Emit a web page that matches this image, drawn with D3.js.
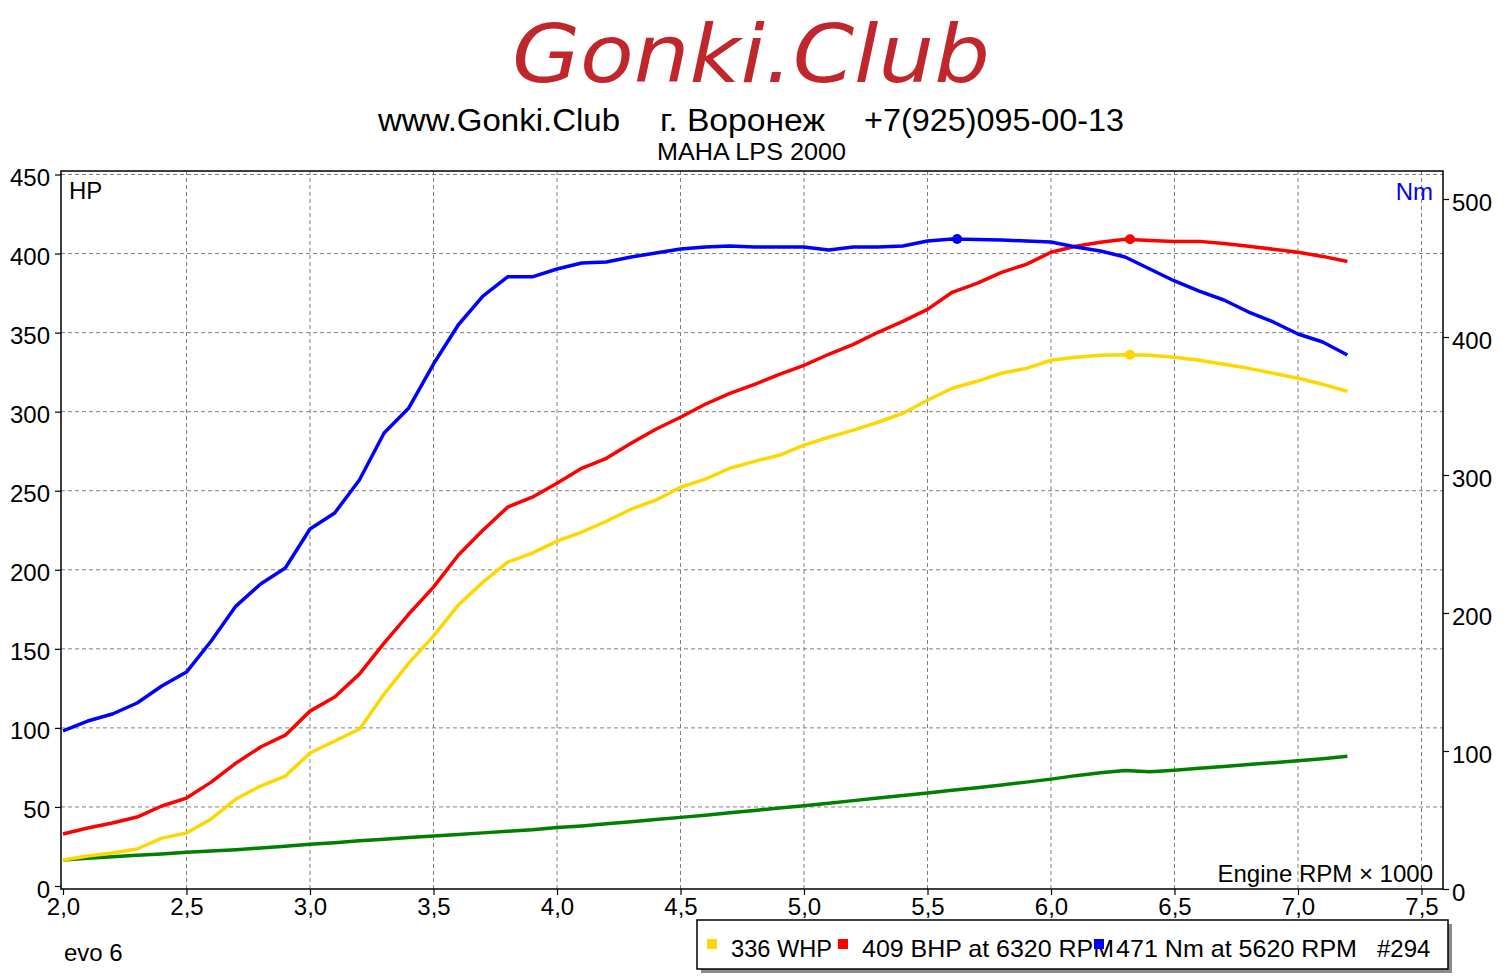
<!DOCTYPE html>
<html lang="ru">
<head>
  <meta charset="UTF-8">
  <title>Gonki.Club - evo 6 dyno</title>
  <script src="https://d3js.org/d3.v7.min.js"></script>
  <style>
    body { margin: 0; background: #fff; }
    svg text { font-family: "Liberation Sans", Arial, sans-serif; }
    .grid line { stroke: #808080; stroke-width: 1; stroke-dasharray: 4,3; }
  </style>
</head>
<body>
<div id="chart"></div>
<script>
// RPM x 1000, one reading per 100 rpm
const rpm = [2.0, 2.1, 2.2, 2.3, 2.4, 2.5, 2.6, 2.7, 2.8, 2.9,
             3.0, 3.1, 3.2, 3.3, 3.4, 3.5, 3.6, 3.7, 3.8, 3.9,
             4.0, 4.1, 4.2, 4.3, 4.4, 4.5, 4.6, 4.7, 4.8, 4.9,
             5.0, 5.1, 5.2, 5.3, 5.4, 5.5, 5.6, 5.7, 5.8, 5.9,
             6.0, 6.1, 6.2, 6.3, 6.4, 6.5, 6.6, 6.7, 6.8, 6.9,
             7.0, 7.1, 7.2];

// wheel hp (yellow)
const whp = [16.4, 19.0, 20.9, 23.4, 30.3, 33.5, 42.4, 55.0, 63.2, 69.5,
             84.1, 91.7, 99.2, 121.4, 141.0, 158.0, 177.6, 192.2, 204.8, 210.5,
             218.1, 223.8, 230.7, 238.3, 244.0, 252.2, 257.3, 264.2, 268.6, 272.4,
             278.8, 283.8, 288.3, 293.3, 299.0, 307.2, 314.8, 319.2, 324.3, 327.4,
             332.5, 334.4, 335.7, 336.0, 335.7, 334.4, 332.5, 330.0, 327.4, 324.3,
             321.1, 317.3, 312.9];

// engine hp (red)
const bhp = [32.9, 36.7, 39.8, 43.6, 50.6, 55.6, 65.7, 77.7, 87.9, 95.4,
             110.6, 119.5, 134.0, 153.6, 172.0, 189.0, 209.2, 225.0, 239.6, 245.9,
             254.7, 264.2, 270.5, 280.0, 288.9, 296.5, 304.7, 311.6, 317.3, 323.6,
             329.3, 336.3, 342.6, 350.2, 357.1, 364.7, 375.5, 381.2, 388.1, 393.2,
             400.8, 404.6, 407.1, 409.0, 408.3, 407.7, 407.7, 406.4, 404.6, 402.7,
             400.8, 398.2, 395.0];

// losses (green)
const loss = [16.5, 17.5, 18.5, 19.5, 20.3, 21.3, 22.2, 23.0, 24.0, 25.2,
              26.4, 27.4, 28.6, 29.6, 30.6, 31.6, 32.6, 33.6, 34.6, 35.6,
              37.0, 38.0, 39.3, 40.6, 42.0, 43.4, 44.8, 46.3, 47.8, 49.3,
              50.8, 52.4, 54.0, 55.6, 57.2, 58.8, 60.5, 62.2, 63.9, 65.7,
              67.6, 69.8, 71.6, 73.0, 72.2, 73.2, 74.4, 75.6, 76.8, 78.0,
              79.2, 80.5, 82.0];

// torque Nm (blue, right axis)
const torque = [114.5, 121.7, 126.8, 134.8, 147.1, 157.2, 179.7, 205.0, 221.0, 232.6,
                260.9, 272.5, 296.4, 330.4, 348.6, 380.4, 408.7, 429.7, 443.6, 443.6,
                449.3, 453.6, 454.3, 458.0, 460.9, 463.8, 465.2, 465.9, 465.2, 465.2,
                465.2, 463.0, 465.2, 465.2, 465.9, 469.6, 471.0, 470.6, 470.3, 469.6,
                468.8, 465.2, 462.3, 458.0, 449.3, 440.6, 433.3, 426.8, 418.1, 410.9,
                402.2, 396.4, 387.0];

// peak markers
const peaks = [
  { rpm: 5.62, value: 471, axis: "nm", color: "#0000ff" },
  { rpm: 6.32, value: 409, axis: "hp", color: "#ff0000" },
  { rpm: 6.32, value: 336, axis: "hp", color: "#ffd700" }
];

const hpTicks = [0, 50, 100, 150, 200, 250, 300, 350, 400, 450];
const nmTicks = [0, 100, 200, 300, 400, 500];
const rpmTicks = [2.0, 2.5, 3.0, 3.5, 4.0, 4.5, 5.0, 5.5, 6.0, 6.5, 7.0, 7.5];

const legendItems = [
  { color: "#ffd700", text: "336 WHP" },
  { color: "#ff0000", text: "409 BHP at 6320 RPM" },
  { color: "#0000ff", text: "471 Nm at 5620 RPM" }
];

const W = 1503, H = 979;
const frame = { left: 61, top: 171, right: 1443, bottom: 889 };

const svg = d3.select("#chart").append("svg")
  .attr("width", W)
  .attr("height", H);

// scales
const x = d3.scaleLinear().domain([2.0, 7.5]).range([63, 1421.5]);
const yHp = d3.scaleLinear().domain([0, 450]).range([886, 174.5]);
const yNm = d3.scaleLinear().domain([0, 500]).range([889, 199]);

// logo + header
svg.append("text")
  .attr("x", 512).attr("y", 82)
  .attr("textLength", 478)
  .attr("lengthAdjust", "spacingAndGlyphs")
  .style("font-family", "'DejaVu Sans', sans-serif")
  .style("font-style", "italic")
  .style("font-size", "80px")
  .attr("fill", "#c0272d")
  .text("Gonki.Club");

const header = [
  { x: 378, w: 242, t: "www.Gonki.Club" },
  { x: 660, w: 165, t: "г. Воронеж" },
  { x: 864, w: 260, t: "+7(925)095-00-13" }
];
svg.selectAll(".hdr").data(header).enter().append("text")
  .attr("class", "hdr")
  .attr("x", d => d.x).attr("y", 131)
  .attr("textLength", d => d.w)
  .attr("lengthAdjust", "spacingAndGlyphs")
  .style("font-size", "31px")
  .attr("fill", "#000")
  .text(d => d.t);

svg.append("text")
  .attr("x", 657).attr("y", 160)
  .attr("textLength", 189)
  .attr("lengthAdjust", "spacingAndGlyphs")
  .style("font-size", "23px")
  .text("MAHA LPS 2000");

// grid
const grid = svg.append("g").attr("class", "grid");
grid.selectAll(".gx").data(rpmTicks.slice(1)).enter().append("line")
  .attr("x1", d => x(d)).attr("x2", d => x(d))
  .attr("y1", frame.top).attr("y2", frame.bottom);
grid.selectAll(".gy").data(hpTicks.slice(1)).enter().append("line")
  .attr("x1", frame.left).attr("x2", frame.right)
  .attr("y1", d => yHp(d)).attr("y2", d => yHp(d));

// frame
svg.append("rect")
  .attr("x", frame.left).attr("y", frame.top)
  .attr("width", frame.right - frame.left)
  .attr("height", frame.bottom - frame.top)
  .attr("fill", "none")
  .attr("stroke", "#000")
  .attr("stroke-width", 1.5);

// axes
function styleAxis(g) {
  g.select(".domain").remove();
  g.selectAll(".tick line").attr("stroke", "#000").attr("stroke-width", 1.2);
  g.selectAll(".tick text")
    .attr("fill", "#000")
    .style("font-size", "24px")
    .style("font-family", "'Liberation Sans', Arial, sans-serif");
}

svg.append("g")
  .attr("transform", `translate(${frame.left},0)`)
  .call(d3.axisLeft(yHp).tickValues(hpTicks).tickSize(6).tickPadding(5).tickFormat(d3.format("d")))
  .call(styleAxis)
  .selectAll(".tick text").attr("dy", 11);

svg.append("g")
  .attr("transform", `translate(${frame.right},0)`)
  .call(d3.axisRight(yNm).tickValues(nmTicks).tickSize(6).tickPadding(3).tickFormat(d3.format("d")))
  .call(styleAxis)
  .selectAll(".tick text").attr("dy", 11);

svg.append("g")
  .attr("transform", `translate(0,${frame.bottom})`)
  .call(d3.axisBottom(x).tickValues(rpmTicks).tickSize(6).tickPadding(3)
    .tickFormat(d => d3.format(".1f")(d).replace(".", ",")))
  .call(styleAxis);

// curves
const hpLine = vals => d3.line()
  .x((d, i) => x(rpm[i]))
  .y(d => yHp(d))(vals);
const nmLine = d3.line()
  .x((d, i) => x(rpm[i]))
  .y(d => yNm(d));

const series = [
  { path: hpLine(loss), color: "#008000" },
  { path: hpLine(whp), color: "#ffd700" },
  { path: hpLine(bhp), color: "#ff0000" },
  { path: nmLine(torque), color: "#0000ff" }
];

svg.selectAll(".curve").data(series).enter().append("path")
  .attr("class", "curve")
  .attr("d", d => d.path)
  .attr("fill", "none")
  .attr("stroke", d => d.color)
  .attr("stroke-width", 3.5)
  .attr("stroke-linejoin", "round");

svg.selectAll(".peak").data(peaks).enter().append("circle")
  .attr("class", "peak")
  .attr("cx", d => x(d.rpm))
  .attr("cy", d => d.axis === "nm" ? yNm(d.value) : yHp(d.value))
  .attr("r", 5)
  .attr("fill", d => d.color);

// axis captions
svg.append("text").attr("x", 69).attr("y", 199)
  .style("font-size", "24px").text("HP");
svg.append("text").attr("x", 1433).attr("y", 200)
  .attr("text-anchor", "end")
  .style("font-size", "24px").attr("fill", "#0000ff").text("Nm");
svg.append("text").attr("x", 1433).attr("y", 882)
  .attr("text-anchor", "end")
  .style("font-size", "24px").text("Engine RPM × 1000");
svg.append("text").attr("x", 64).attr("y", 961)
  .style("font-size", "24px").text("evo 6");

// legend box
const lg = svg.append("g");
lg.append("rect")
  .attr("x", 701).attr("y", 924).attr("width", 751).attr("height", 49)
  .attr("fill", "#8c8c8c");
lg.append("rect")
  .attr("x", 697).attr("y", 920).attr("width", 751).attr("height", 49)
  .attr("fill", "#fff").attr("stroke", "#000").attr("stroke-width", 1.5);

const legendPos = [
  { sx: 707, tx: 731, w: 101 },
  { sx: 838, tx: 862, w: 252 },
  { sx: 1094, tx: 1116, w: 241 }
];
legendItems.forEach((d, i) => {
  const p = legendPos[i];
  lg.append("text")
    .attr("x", p.tx).attr("y", 957)
    .attr("textLength", p.w)
    .attr("lengthAdjust", "spacingAndGlyphs")
    .style("font-size", "24px")
    .text(d.text);
});
legendItems.forEach((d, i) => {
  lg.append("rect")
    .attr("x", legendPos[i].sx).attr("y", 939)
    .attr("width", 10).attr("height", 10)
    .attr("fill", d.color);
});
lg.append("text")
  .attr("x", 1377).attr("y", 957)
  .style("font-size", "24px")
  .text("#294");
</script>
</body>
</html>
